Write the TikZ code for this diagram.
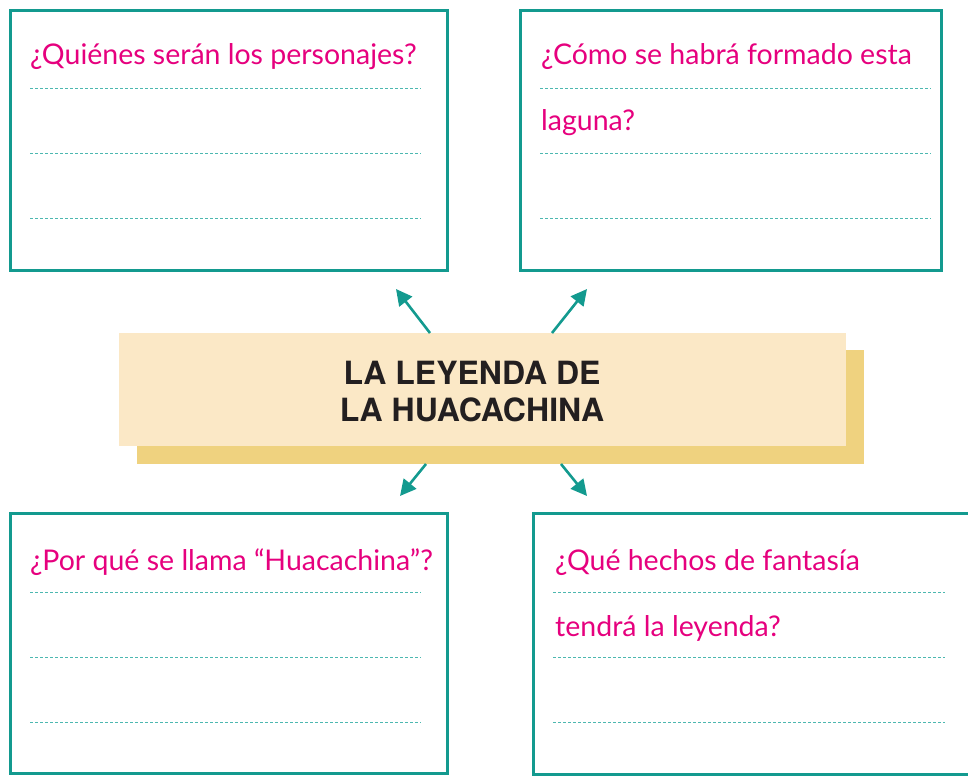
\documentclass[tikz,border=0pt]{standalone}
\usepackage{fontspec}
\setmainfont{Lato}
\newfontfamily\titlefont{TeX Gyre Heros}
\usetikzlibrary{arrows.meta}
\definecolor{tealb}{HTML}{139A8F}
\definecolor{teald}{HTML}{4DB8B0}
\definecolor{magq}{HTML}{E6007E}
\definecolor{creamf}{HTML}{FBE8C6}
\definecolor{golds}{HTML}{EFD27F}
\definecolor{darkt}{HTML}{231F20}
\tikzset{
  qbox/.style={draw=tealb, line width=2.6pt, fill=white, inner sep=0pt},
  qtext/.style={anchor=base west, inner sep=0pt, text=magq, font=\fontsize{28.5}{32}\selectfont},
  wline/.style={draw=teald, line width=0.9pt, dash pattern=on 3pt off 2pt},
  conn/.style={draw=tealb, line width=2.6pt, -{Triangle[length=16pt,width=16pt]}}
}
\begin{document}
\begin{tikzpicture}[x=1pt,y=-1pt]
\useasboundingbox (0,0) rectangle (968,781);
\clip (0,0) rectangle (968,781);
% question boxes
\node[qbox, minimum width=437pt, minimum height=260pt, anchor=north west] (tl) at (9,9) {};
\node[qbox, minimum width=421pt, minimum height=260pt, anchor=north west] (tr) at (519,9) {};
\node[qbox, minimum width=437pt, minimum height=260pt, anchor=north west] (bl) at (9,512) {};
\node[qbox, minimum width=460pt, minimum height=261pt, anchor=north west] (br) at (532,512) {};
% writing lines
\foreach \y in {88,153,218} {
  \draw[wline] (30,\y) -- (421,\y);
  \draw[wline] (540,\y) -- (931,\y);
}
\foreach \y in {592,657,722} {
  \draw[wline] (30,\y) -- (421,\y);
  \draw[wline] (553,\y) -- (945,\y);
}
% questions
\node[qtext] (q1) at (30,65) {¿Quiénes serán los personajes?};
\node[qtext] (q2a) at (541,65) {¿Cómo se habrá formado esta};
\node[qtext] (q2b) at (541,131) {laguna?};
\node[qtext] (q3) at (30,570) {¿Por qué se llama “Huacachina”?};
\node[qtext] (q4a) at (555,570) {¿Qué hechos de fantasía};
\node[qtext] (q4b) at (555,636) {tendrá la leyenda?};
% central title
\fill[golds] (137,350) rectangle (864,464);
\node[fill=creamf, minimum width=727pt, minimum height=113pt, anchor=north west, inner sep=0pt] (c) at (119,333) {};
\node[align=center, text=darkt, font=\titlefont\bfseries\fontsize{32}{37}\selectfont] (title) at (472,392) {LA LEYENDA DE\\LA HUACACHINA};
% arrow tips
\coordinate (t1) at (396,289);
\coordinate (t2) at (587,289);
\coordinate (t3) at (400,496);
\coordinate (t4) at (587,496);
\coordinate (s1) at (430,333);
\coordinate (s2) at (552,333);
\coordinate (s3) at (426,464);
\coordinate (s4) at (561,464);
\draw[conn] (s1) -- (t1);
\draw[conn] (s2) -- (t2);
\draw[conn] (s3) -- (t3);
\draw[conn] (s4) -- (t4);
\end{tikzpicture}
\end{document}
